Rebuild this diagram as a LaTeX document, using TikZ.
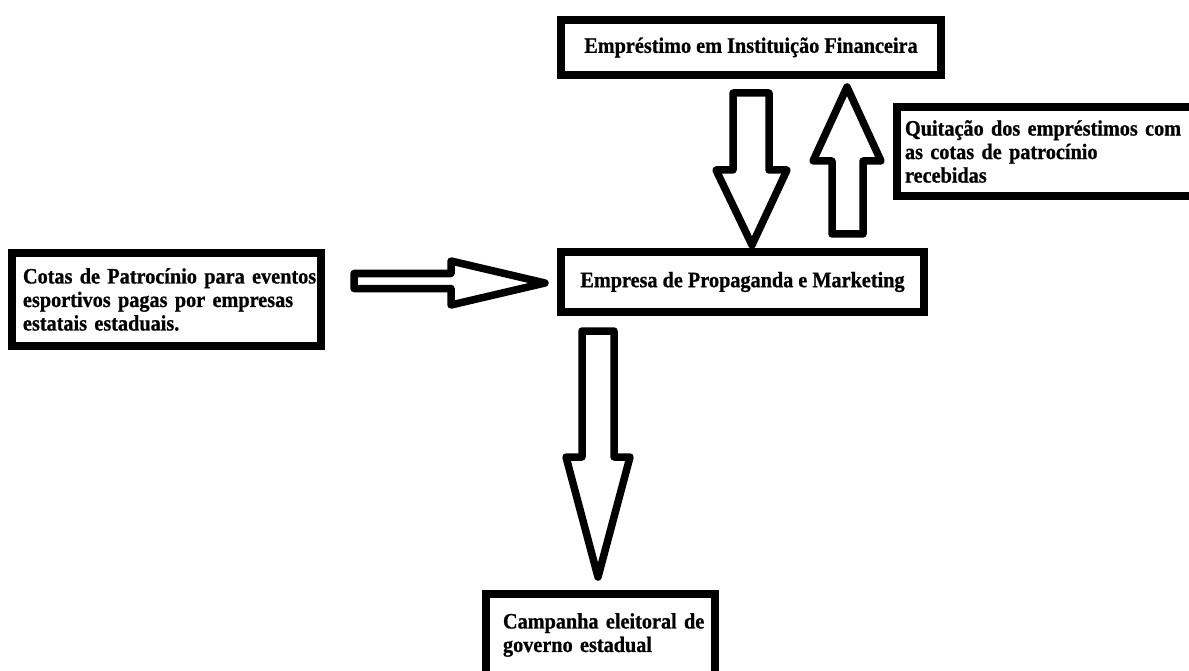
\documentclass[tikz,border=0pt]{standalone}
\usepackage{fontspec}
\setmainfont{Liberation Serif}[BoldFeatures={FakeStretch=0.92,FakeBold=0.8}]
\begin{document}
\begin{tikzpicture}[x=1pt,y=-1pt,
  box/.style={draw=black, line width=7.5pt, fill=white, inner sep=0pt,
              font=\bfseries\fontsize{22}{23.5}\selectfont},
  blockarrow/.style={draw=black, line width=7.5pt, line join=round, fill=white}]
\useasboundingbox (0,0) rectangle (1189,671);
\clip (0,0) rectangle (1189,671);

% boxes
\node[box, minimum width=380pt, minimum height=55pt] (loan) at (751,47.5)
  {Empréstimo em Instituição Financeira};
\node[box, minimum width=363pt, minimum height=60pt] (firm) at (742.5,282)
  {Empresa de Propaganda e Marketing};
\node[box, minimum width=309pt, minimum height=93pt, text width=287pt, align=left] (quotas) at (166.5,299.5)
  {\mbox{Cotas de Patrocínio para eventos}\\\mbox{esportivos pagas por empresas}\\\mbox{estatais estaduais.}};
\node[box, minimum width=300pt, minimum height=89pt, text width=284pt, align=left] (payoff) at (1047,151.5)
  {\mbox{Quitação dos empréstimos com}\\\mbox{as cotas de patrocínio}\\\mbox{recebidas}};
\node[box, minimum width=229pt, minimum height=82pt, text width=195pt, align=left] (campaign) at (600.5,635)
  {\mbox{Campanha eleitoral de}\\\mbox{governo estadual}};

% block arrows
\coordinate (quotasTip) at (545,283);
\coordinate (loanTip) at (752,245);
\coordinate (payoffTip) at (847,87);
\coordinate (campaignTip) at (598,577);

\draw[blockarrow] (354,273.5) -- (451,273.5) -- (451,261) -- (quotasTip)
  -- (451,305) -- (451,288.5) -- (354,288.5) -- cycle;
\draw[blockarrow] (733,93) -- (769,93) -- (769,170) -- (787,170) -- (loanTip)
  -- (716,170) -- (733,170) -- cycle;
\draw[blockarrow] (832,234) -- (832,161) -- (813,161) -- (payoffTip)
  -- (881,161) -- (863,161) -- (863,234) -- cycle;
\draw[blockarrow] (582,331) -- (614,331) -- (614,457) -- (630,457) -- (campaignTip)
  -- (566,457) -- (582,457) -- cycle;
\end{tikzpicture}
\end{document}
